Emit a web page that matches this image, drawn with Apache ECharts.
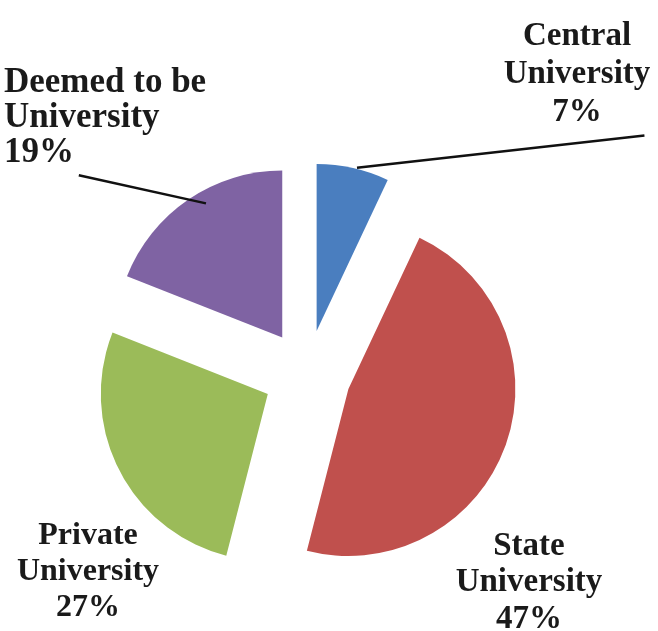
<!DOCTYPE html>
<html>
<head>
<meta charset="utf-8">
<script src="https://cdn.jsdelivr.net/npm/echarts@6/dist/echarts.min.js"></script>
<style>
  html, body { margin: 0; padding: 0; background: #ffffff; }
  #chart { width: 658px; height: 631px; }
</style>
</head>
<body>
<div id="chart"></div>
<script>
// University types and their share of the total (%)
const categories = ['Central University', 'State University', 'Private University', 'Deemed to be University'];
const shares = [7, 47, 27, 19];
const sliceColors = ['#4a7ebf', '#c0504d', '#9bbb59', '#7f63a3'];

// Pie geometry: every slice is pulled out from the centre by explodeOffset
const pieCenter = [307, 374];
const pieRadius = 167;
const explodeOffset = 44;

// Where each label block sits, its type settings, where its leader line
// meets the block (fractions of the block's width / height) and how far the
// line reaches past the slice's outer edge
const labelPlacement = [
  { x: 577, y: 17,  align: 'center', fontSize: 33, lineHeight: 38,   attach: [0.96, 1.04], reach: -4 },
  { x: 529, y: 528, align: 'center', fontSize: 33, lineHeight: 36.5, attach: null, reach: 0 },
  { x: 88,  y: 518, align: 'center', fontSize: 32, lineHeight: 36,   attach: null, reach: 0 },
  { x: 4,   y: 65,  align: 'left',   fontSize: 35, lineHeight: 35,   attach: [0.37, 1.05], reach: 18 }
];

const labelText = p => p.name.replace(' University', '\nUniversity') + '\n' + p.value + '%';

const chart = echarts.init(document.getElementById('chart'), null, { renderer: 'canvas' });

// Exploded slices
const sliceData = categories.map((name, i) => ({
  name: name,
  value: shares[i],
  selected: true,
  itemStyle: { color: sliceColors[i] }
}));

// Same values on an invisible ring reaching the exploded outer edge; it carries the labels
const labelData = categories.map((name, i) => ({
  name: name,
  value: shares[i],
  label: {
    fontSize: labelPlacement[i].fontSize,
    lineHeight: labelPlacement[i].lineHeight,
    align: labelPlacement[i].align
  },
  labelLine: { show: !!labelPlacement[i].attach }
}));

chart.setOption({
  animation: false,
  series: [{
    type: 'pie',
    z: 2,
    center: pieCenter,
    radius: pieRadius,
    startAngle: 90,
    clockwise: true,
    selectedMode: 'multiple',
    selectedOffset: explodeOffset,
    emphasis: { disabled: true },
    itemStyle: { borderWidth: 0 },
    label: { show: false },
    labelLine: { show: false },
    data: sliceData
  }, {
    type: 'pie',
    z: 5,
    center: pieCenter,
    radius: pieRadius + explodeOffset,
    startAngle: 90,
    clockwise: true,
    silent: true,
    selectedMode: false,
    avoidLabelOverlap: false,
    emphasis: { disabled: true },
    itemStyle: { color: 'rgba(0,0,0,0)', borderWidth: 0 },
    label: {
      show: true,
      position: 'outside',
      color: '#1a1a1a',
      fontFamily: '"Liberation Serif", "Times New Roman", serif',
      fontWeight: 'bold',
      formatter: labelText
    },
    labelLine: {
      length: 10,
      length2: 0,
      lineStyle: { color: '#111111', width: 2.5 }
    },
    labelLayout: function (params) {
      const pl = labelPlacement[params.dataIndex];
      const w = params.labelRect.width;
      const h = params.labelRect.height;
      const left = pl.align === 'center' ? pl.x - w / 2 : pl.x;
      const out = { x: pl.x, y: pl.y, align: pl.align, verticalAlign: 'top' };
      if (pl.attach && params.labelLinePoints) {
        const anchor = params.labelLinePoints[0];
        const end = [left + w * pl.attach[0], pl.y + h * pl.attach[1]];
        // continue the line a little way into the slice
        const dx = anchor[0] - end[0];
        const dy = anchor[1] - end[1];
        const len = Math.sqrt(dx * dx + dy * dy) || 1;
        const start = [anchor[0] + dx / len * pl.reach, anchor[1] + dy / len * pl.reach];
        out.labelLinePoints = [start, end, end];
      }
      return out;
    },
    data: labelData
  }]
});
</script>
</body>
</html>
